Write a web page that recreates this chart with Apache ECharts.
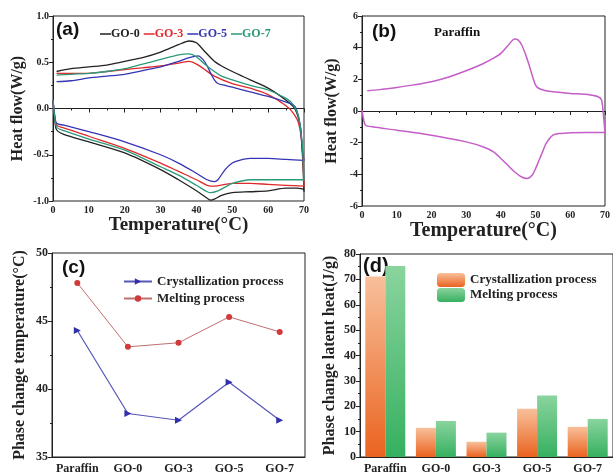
<!DOCTYPE html>
<html>
<head>
<meta charset="utf-8">
<script src="https://cdn.jsdelivr.net/npm/echarts@6/dist/echarts.min.js"></script>
<style>
  html, body { margin: 0; padding: 0; background: #fff; }
  #chart { width: 613px; height: 475px; }
</style>
</head>
<body>
<div id="chart"></div>
<script>
// (a) DSC loops of the composites: upper branch left->right, lower branch right->left
const go0Upper = [[1,0.40],[5,0.43],[10,0.45],[15,0.47],[20,0.51],[25,0.55],[30,0.61],[35,0.69],[38,0.73],[40,0.71],[42,0.63],[45,0.51],[47,0.46],[50,0.40],[55,0.31],[60,0.22],[65,0.09],[67,0.02],[68,-0.05],[69,-0.2],[69.5,-0.45],[70,-0.9]];
const go0Lower = [[70,-0.88],[68,-0.86],[65,-0.86],[60,-0.89],[55,-0.90],[50,-0.91],[47,-0.94],[45,-0.98],[44,-0.99],[43,-0.97],[40,-0.89],[35,-0.77],[30,-0.66],[20,-0.48],[10,-0.36],[3,-0.28],[1,-0.23],[0.5,-0.12],[0,0.09]];
const go3Upper = [[1,0.38],[5,0.38],[10,0.38],[15,0.40],[20,0.42],[25,0.44],[30,0.46],[35,0.49],[38,0.51],[40,0.48],[42,0.43],[45,0.35],[50,0.27],[55,0.22],[60,0.15],[65,0.03],[67,-0.05],[68.5,-0.16],[69.5,-0.41],[70,-0.84]];
const go3Lower = [[70,-0.84],[65,-0.83],[60,-0.82],[55,-0.81],[50,-0.81],[48,-0.82],[45,-0.84],[43,-0.83],[40,-0.77],[35,-0.68],[30,-0.59],[20,-0.43],[10,-0.30],[3,-0.21],[1,-0.18],[0.5,-0.1],[0,0.09]];
const go5Upper = [[1,0.29],[5,0.30],[10,0.33],[15,0.35],[20,0.37],[25,0.41],[30,0.45],[35,0.51],[38,0.55],[40.5,0.57],[42,0.52],[43,0.46],[44,0.38],[45,0.31],[46,0.27],[48,0.25],[50,0.23],[55,0.18],[60,0.13],[65,0.07],[67,0.04],[68,-0.02],[69,-0.2],[69.5,-0.45],[70,-0.56]];
const go5Lower = [[70,-0.56],[65,-0.55],[60,-0.54],[55,-0.54],[52,-0.56],[50,-0.59],[48,-0.66],[46,-0.77],[45,-0.79],[43,-0.77],[40,-0.70],[35,-0.59],[30,-0.50],[20,-0.36],[10,-0.25],[3,-0.18],[1,-0.16],[0.5,-0.08],[0,0.09]];
const go7Upper = [[1,0.36],[5,0.37],[10,0.38],[15,0.40],[20,0.43],[25,0.48],[30,0.53],[35,0.58],[38,0.59],[40,0.56],[42,0.49],[45,0.40],[47,0.35],[50,0.31],[55,0.25],[60,0.20],[65,0.11],[67,0.04],[68.5,-0.09],[69.5,-0.38],[70,-0.77]];
const go7Lower = [[70,-0.77],[65,-0.77],[60,-0.77],[55,-0.77],[50,-0.81],[48,-0.85],[46,-0.89],[44,-0.91],[43,-0.90],[40,-0.83],[35,-0.72],[30,-0.63],[20,-0.45],[10,-0.33],[3,-0.24],[1,-0.2],[0.5,-0.1],[0,0.09]];

// (b) pure paraffin
const parUpper = [[1.5,1.28],[5,1.35],[10,1.49],[15,1.65],[20,1.85],[25,2.15],[30,2.54],[35,3.0],[38,3.35],[40,3.64],[42,4.12],[44,4.55],[45,4.48],[46,4.17],[47,3.64],[48,3.0],[49,2.27],[50,1.64],[51,1.42],[53,1.28],[55,1.21],[60,1.11],[65,1.04],[68,0.9],[69,0.69],[69.5,-0.16],[70,-1.36]];
const parLower = [[70,-1.36],[65,-1.36],[60,-1.38],[57,-1.42],[55,-1.53],[53,-2.06],[52,-2.59],[51,-3.11],[50,-3.64],[49,-4.06],[47.5,-4.27],[46,-4.17],[44,-3.85],[42,-3.43],[40,-3.0],[38,-2.59],[35,-2.27],[30,-1.95],[20,-1.53],[10,-1.21],[3,-1.0],[1,-0.9],[0.5,-0.58],[0,0.05]];

// (c) / (d)
const samples = ['Paraffin', 'GO-0', 'GO-3', 'GO-5', 'GO-7'];
const crystTemp = [44.3, 38.2, 37.7, 40.5, 37.7];
const meltTemp = [47.8, 43.1, 43.4, 45.3, 44.2];
const crystHeat = [71.1, 11.5, 6.0, 19.0, 11.9];
const meltHeat = [75.3, 14.2, 9.6, 24.2, 15.0];

const SERIF = 'Liberation Serif';
const SANS = 'Liberation Sans';
const INK = '#222';

function valueAxis(gi, min, max, step, fmt, name, gap, fs) {
  return {
    type: 'value', gridIndex: gi, min: min, max: max, interval: step,
    axisLine: { show: true, lineStyle: { color: INK, width: 1 } },
    axisTick: { show: true, length: 4, lineStyle: { color: INK } },
    minorTick: { show: true, splitNumber: 2, length: 2, lineStyle: { color: INK } },
    splitLine: { show: false },
    axisLabel: { color: INK, fontFamily: SERIF, fontWeight: 'bold', fontSize: fs || 10, margin: 4, formatter: fmt },
    name: name, nameLocation: 'middle', nameGap: gap,
    nameTextStyle: { color: INK, fontFamily: SERIF, fontWeight: 'bold', fontSize: 16 }
  };
}

function catAxis(gi) {
  return {
    type: 'category', gridIndex: gi, data: samples,
    axisLine: { lineStyle: { color: INK } },
    axisTick: { show: false },
    axisLabel: { color: INK, fontFamily: SERIF, fontWeight: 'bold', fontSize: 12, margin: 6, interval: 0 }
  };
}

const oneDec = v => v.toFixed(1);
const tempName = 'Temperature(°C)';

function loop(name, color, upper, lower, xi, yi) {
  return {
    name: name, type: 'line', xAxisIndex: xi, yAxisIndex: yi,
    data: upper.concat(lower), showSymbol: false, symbol: 'none',
    smooth: 0.3, lineStyle: { color: color, width: 1.3 }, itemStyle: { color: color }
  };
}

function grad(top, bottom) {
  return new echarts.graphic.LinearGradient(0, 0, 0, 1, [
    { offset: 0, color: top }, { offset: 1, color: bottom }
  ]);
}

const chart = echarts.init(document.getElementById('chart'));
chart.setOption({
  backgroundColor: '#fff',
  animation: false,
  grid: [
    { left: 53, top: 16, width: 251, height: 185, show: true, borderColor: INK, borderWidth: 1 },
    { left: 362, top: 16, width: 250, height: 190, show: true, borderColor: INK, borderWidth: 1 },
    { left: 52, top: 253, width: 253, height: 205, show: true, borderColor: INK, borderWidth: 1 },
    { left: 360, top: 254, width: 253, height: 204, show: true, borderColor: INK, borderWidth: 1 }
  ],
  xAxis: [
    Object.assign(valueAxis(0, 0, 70, 10, null, tempName, 13), { nameTextStyle: { color: INK, fontFamily: SERIF, fontWeight: 'bold', fontSize: 19 } }),
    Object.assign(valueAxis(1, 0, 70, 10, null, tempName, 12), { nameTextStyle: { color: INK, fontFamily: SERIF, fontWeight: 'bold', fontSize: 20 } }),
    catAxis(2),
    catAxis(3)
  ],
  yAxis: [
    valueAxis(0, -1, 1, 0.5, oneDec, 'Heat flow(W/g)', 27),
    valueAxis(1, -6, 6, 2, null, 'Heat flow(W/g)', 22),
    valueAxis(2, 35, 50, 5, null, 'Phase change temperature(°C)', 24, 12),
    valueAxis(3, 0, 80, 10, null, 'Phase change latent heat(J/g)', 22, 12)
  ],
  legend: [
    {
      left: 95, top: 23, icon: 'rect', itemWidth: 11, itemHeight: 1.5, itemGap: 4,
      textStyle: { fontFamily: SERIF, fontWeight: 'bold', fontSize: 12, padding: [0, 0, 0, -5] },
      data: [
        { name: 'GO-0', textStyle: { color: '#222' } },
        { name: 'GO-3', textStyle: { color: '#e02a2a' } },
        { name: 'GO-5', textStyle: { color: '#3434b4' } },
        { name: 'GO-7', textStyle: { color: '#2a9a7a' } }
      ]
    },
    {
      left: 118, top: 270, orient: 'vertical', itemWidth: 28, itemHeight: 8, itemGap: 4,
      textStyle: { color: INK, fontFamily: SERIF, fontWeight: 'bold', fontSize: 13 },
      data: ['Crystallization process', 'Melting process']
    },
    {
      left: 432, top: 268, orient: 'vertical', itemWidth: 28, itemHeight: 14, itemGap: 1,
      textStyle: { color: INK, fontFamily: SERIF, fontWeight: 'bold', fontSize: 13 },
      formatter: n => n.replace(' (d)', ''),
      data: ['Crystallization process (d)', 'Melting process (d)']
    }
  ],
  graphic: [
    { type: 'text', left: 56, top: 20, style: { text: '(a)', font: 'bold 19px ' + SANS, fill: '#111' } },
    { type: 'text', left: 372, top: 22, style: { text: '(b)', font: 'bold 19px ' + SANS, fill: '#111' } },
    { type: 'text', left: 434, top: 26, style: { text: 'Paraffin', font: 'bold 13px ' + SERIF, fill: '#111' } },
    { type: 'text', left: 62, top: 258, style: { text: '(c)', font: 'bold 19px ' + SANS, fill: '#111' } },
    { type: 'text', left: 363, top: 256, style: { text: '(d)', font: 'bold 20px ' + SANS, fill: '#111' } }
  ],
  series: [
    loop('GO-0', '#222', go0Upper, go0Lower, 0, 0),
    loop('GO-3', '#e02a2a', go3Upper, go3Lower, 0, 0),
    loop('GO-5', '#3434b4', go5Upper, go5Lower, 0, 0),
    loop('GO-7', '#2a9a7a', go7Upper, go7Lower, 0, 0),
    Object.assign(loop('Paraffin', '#c45ec8', parUpper, parLower, 1, 1), { lineStyle: { color: '#c45ec8', width: 1.5 } }),
    {
      name: 'Crystallization process', type: 'line', xAxisIndex: 2, yAxisIndex: 2, data: crystTemp,
      symbol: 'triangle', symbolRotate: -90, symbolSize: 7,
      lineStyle: { color: '#5656b8', width: 1.2 }, itemStyle: { color: '#3030a8' }
    },
    {
      name: 'Melting process', type: 'line', xAxisIndex: 2, yAxisIndex: 2, data: meltTemp,
      symbol: 'circle', symbolSize: 6,
      lineStyle: { color: '#c07070', width: 1 }, itemStyle: { color: '#d03a3a' }
    },
    {
      name: 'Crystallization process (d)', type: 'bar', xAxisIndex: 3, yAxisIndex: 3, data: crystHeat,
      barWidth: 20, barGap: '0%', itemStyle: { color: grad('#f8c09a', '#ea6320') }
    },
    {
      name: 'Melting process (d)', type: 'bar', xAxisIndex: 3, yAxisIndex: 3, data: meltHeat,
      barWidth: 20, barGap: '0%', itemStyle: { color: grad('#8ad49e', '#36b060') }
    }
  ]
});
window.addEventListener('resize', () => chart.resize());
</script>
</body>
</html>
